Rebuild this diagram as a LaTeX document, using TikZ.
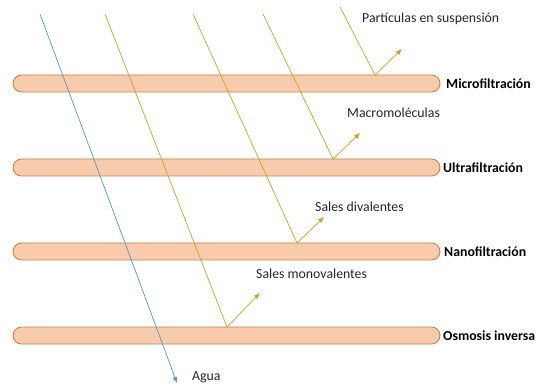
\documentclass[tikz,border=0pt]{standalone}
\usepackage{fontspec}
\setmainfont{Carlito}
\usetikzlibrary{arrows.meta,positioning}
\definecolor{Membrana}{HTML}{F8CBAD}
\definecolor{MembranaBorde}{HTML}{C2854C}
\definecolor{Agua}{HTML}{4A9CC4}
\definecolor{Soluto}{HTML}{C9A227}
\definecolor{Texto}{HTML}{262626}

\begin{document}
\begin{tikzpicture}[x=1pt,y=-1pt,memb/.style={rounded corners=8.5pt, minimum width=427pt, minimum height=17pt, inner sep=0pt, fill=Membrana, draw=MembranaBorde, line width=0.9pt},proc/.style={font=\bfseries\fontsize{13.8}{16}\selectfont, text=black, anchor=west, inner sep=0pt},sol/.style={font=\fontsize{13.8}{16}\selectfont, text=Texto, anchor=west, inner sep=0pt},rayo/.style={draw=Soluto, line width=0.7pt},rebote/.style={draw=Soluto, line width=0.7pt, -{Latex[length=6pt,width=5pt]}},agua/.style={draw=Agua, line width=0.7pt, -{Latex[length=6pt,width=5pt]}}]
\useasboundingbox (0,0) rectangle (538,387);
\node[memb] (mf) at (226.5,83.5) {};
\node[memb] (uf) at (226.5,167.5) {};
\node[memb] (nf) at (226.5,251.5) {};
\node[memb] (oi) at (226.5,335.5) {};
\node[proc] (mfl) at (446,83.5) {Microfiltración};
\node[proc] (ufl) at (443,167.5) {Ultrafiltración};
\node[proc] (nfl) at (444,251.5) {Nanofiltración};
\node[proc] (oil) at (443,335.5) {Osmosis inversa};
% rayos que rebotan en cada membrana
\coordinate (p1) at (340,7); \coordinate (r1) at (375,75); \coordinate (s1) at (402,49);
\coordinate (p2) at (263,14); \coordinate (r2) at (333,159); \coordinate (s2) at (360,133);
\coordinate (p3) at (193,14); \coordinate (r3) at (297,243); \coordinate (s3) at (324,217);
\coordinate (p4) at (105,14); \coordinate (r4) at (227,327); \coordinate (s4) at (260,293);
\draw[rayo] (p1) -- (r1); \draw[rebote] (r1) -- (s1);
\draw[rayo] (p2) -- (r2); \draw[rebote] (r2) -- (s2);
\draw[rayo] (p3) -- (r3); \draw[rebote] (r3) -- (s3);
\draw[rayo] (p4) -- (r4); \draw[rebote] (r4) -- (s4);
\node[sol] (part) at (362,19) {Partículas en suspensión};
\node[sol] (macro) at (347,113) {Macromoléculas};
\node[sol] (div) at (315,207) {Sales divalentes};
\node[sol] (mono) at (256,274) {Sales monovalentes};
% agua
\coordinate (a0) at (40,14); \coordinate (a1) at (177,383);
\draw[agua] (a0) -- (a1);
\node[sol] (agua) at (192,377) {Agua};
\end{tikzpicture}
\end{document}
